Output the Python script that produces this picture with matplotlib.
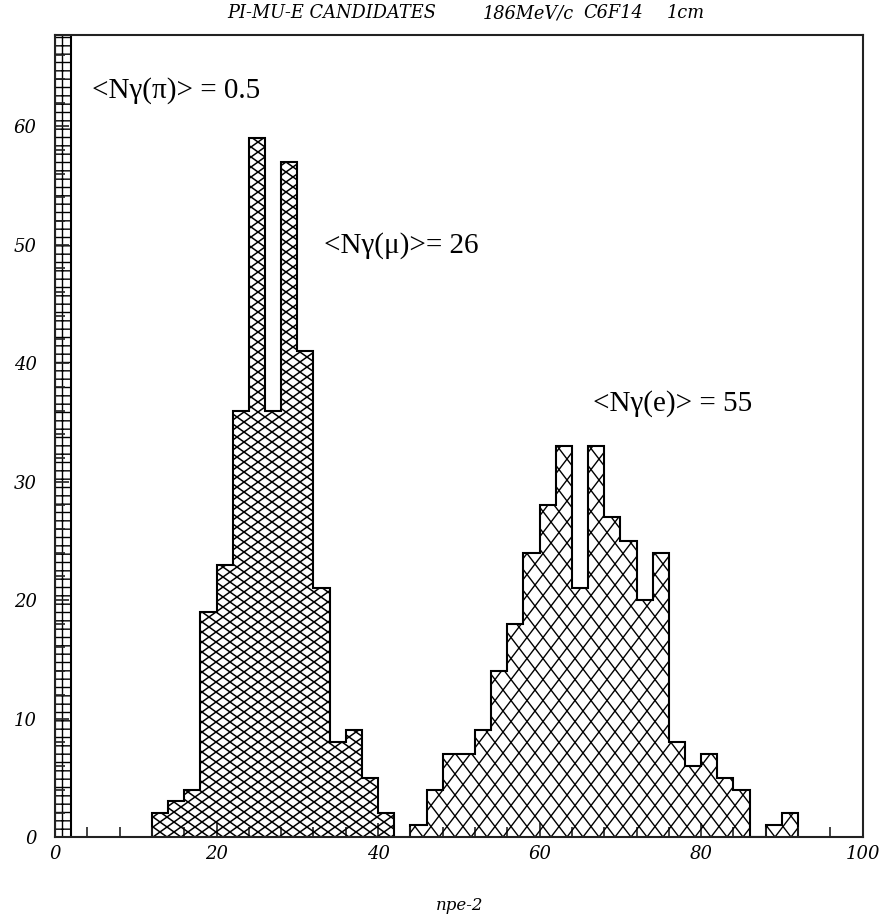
import numpy as np
import matplotlib
matplotlib.use("Agg")
import matplotlib.pyplot as plt
from matplotlib.collections import LineCollection
from matplotlib.ticker import MultipleLocator

# ---- data (bin width 2 in npe) ----
pi_edges = [0, 2]
pi_counts = [250]          # off-scale bin (clipped by the frame)

mu_edges = list(range(12, 44, 2))
mu_counts = [2, 3, 4, 19, 23, 36, 59, 36, 57, 41, 21, 8, 9, 5, 2]

e_edges = list(range(44, 94, 2))
e_counts = [1, 4, 7, 7, 9, 14, 18, 24, 28, 33, 21, 33, 27, 25, 20, 24,
            8, 6, 7, 5, 4, 0, 1, 2]

x_ticks = [0, 20, 40, 60, 80, 100]
y_ticks = [0, 10, 20, 30, 40, 50, 60]

title_parts = [("PI-MU-E CANDIDATES", 227), ("186MeV/c", 483),
               ("C6F14", 583), ("1cm", 667)]
xlabel = "npe-2"
notes = [("<N\u03b3(\u03c0)> = 0.5", 4.6, 62.4),
         ("<N\u03b3(\u03bc)>= 26", 33.3, 49.3),
         ("<N\u03b3(e)> = 55", 66.6, 36.0)]

W, H = 881, 919
fig = plt.figure(figsize=(W / 100, H / 100), dpi=100)
ax = fig.add_axes([55 / W, 1 - 837 / H, (862.7 - 55) / W, (837 - 35) / H])
ax.set_xlim(0, 100)
ax.set_ylim(0, 67.7)

hers = dict(family="DejaVu Serif", style="italic")


def custom_hatch(patch, dx, dy, lw=0.9):
    """Diamond lattice hatch (dx horizontal, dy vertical period in px), clipped to patch."""
    fig.canvas.draw()
    bw, bh = ax.bbox.width, ax.bbox.height
    m = dy / dx
    segs = []
    n = int((bw + bh / m) / dx) + 4
    for k in range(-n, n + 1):
        x0 = k * dx
        segs.append([(x0 / bw, 0), ((x0 + bh / m) / bw, 1)])
        segs.append([(x0 / bw, 0), ((x0 - bh / m) / bw, 1)])
    lc = LineCollection(segs, transform=ax.transAxes, colors="black",
                        linewidths=lw)
    lc.set_clip_path(patch)
    ax.add_collection(lc)


p_pi = ax.stairs(pi_counts, pi_edges, fill=True, facecolor="white",
                 edgecolor="black", linewidth=1.5, hatch="++")
p_mu = ax.stairs(mu_counts, mu_edges, fill=True, facecolor="white",
                 edgecolor="none")
p_e = ax.stairs(e_counts, e_edges, fill=True, facecolor="white",
                edgecolor="none")
custom_hatch(p_mu, 14, 10, lw=1.1)
custom_hatch(p_e, 16, 21, lw=1.0)
ax.stairs(mu_counts, mu_edges, fill=False, edgecolor="black", linewidth=1.5,
          baseline=0)
ax.stairs(e_counts, e_edges, fill=False, edgecolor="black", linewidth=1.5,
          baseline=0)

for s in ax.spines.values():
    s.set_linewidth(1.5)
    s.set_color("#222222")

ax.set_xticks(x_ticks)
ax.set_yticks(y_ticks)
ax.xaxis.set_minor_locator(MultipleLocator(4))
ax.yaxis.set_minor_locator(MultipleLocator(2))
ax.tick_params(axis="both", which="both", direction="in", top=False,
               right=False, width=1.2, color="#222222")
ax.tick_params(axis="both", which="major", length=10)
ax.tick_params(axis="both", which="minor", length=7)
ax.tick_params(axis="x", pad=6)
ax.tick_params(axis="y", pad=13)
for lab in ax.get_xticklabels() + ax.get_yticklabels():
    lab.set_fontfamily("DejaVu Serif")
    lab.set_fontstyle("italic")
    lab.set_fontsize(13)

for txt, x, y in notes:
    ax.text(x, y, txt, family="Liberation Serif", fontsize=21,
            va="baseline", ha="left")

for txt, px in title_parts:
    fig.text(px / W, 1 - 13 / H, txt, ha="left", va="center",
             fontsize=12.8, **hers)
fig.text(460 / W, 1 - 905 / H, xlabel, ha="center", va="center",
         fontsize=12, **hers)

fig.savefig("out.png", dpi=100)
